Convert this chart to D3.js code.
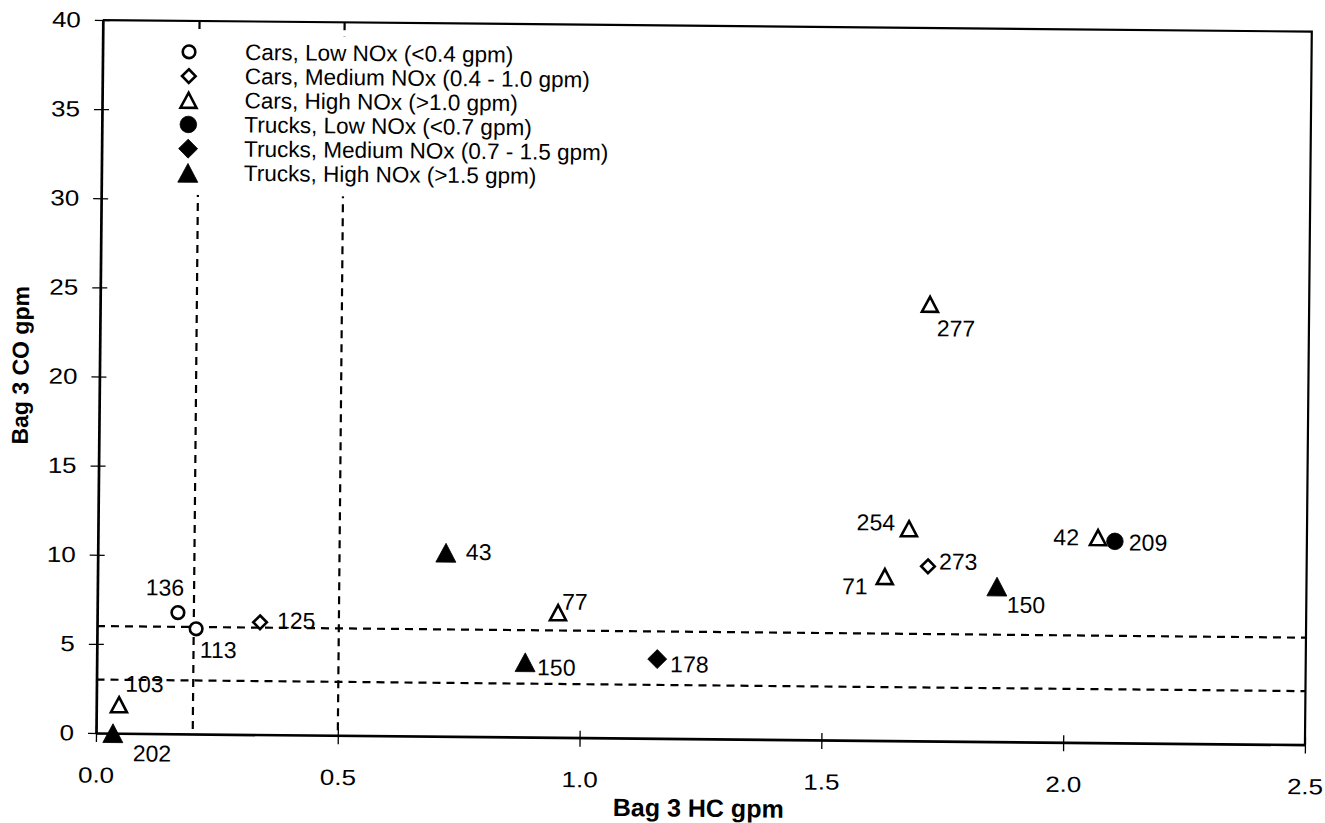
<!DOCTYPE html>
<html>
<head>
<meta charset="utf-8">
<script src="https://cdn.jsdelivr.net/npm/d3@7"></script>
<style>
  html, body { margin: 0; padding: 0; background: #fff; }
  svg { display: block; }
  text { font-family: "Liberation Sans", Arial, Helvetica, sans-serif; fill: #000; }
</style>
</head>
<body>
<svg id="chart" width="1325" height="823"></svg>
<script>
// ---- Data: Bag 3 HC vs CO emissions per vehicle ----
const vehicleIds = ["202", "103", "136", "113", "125", "43", "77", "150", "178", "277", "254", "273", "71", "150", "42", "209"];
const hcValues   = [0.035, 0.047, 0.167, 0.205, 0.337, 0.720, 0.953, 0.886, 1.159, 1.716, 1.677, 1.717, 1.628, 1.860, 2.068, 2.103];
const coValues   = [0.0, 1.6, 6.8, 5.9, 6.3, 10.3, 7.0, 4.2, 4.45, 24.5, 11.9, 9.8, 9.2, 8.7, 11.5, 11.3];
const groupIndex = [5, 2, 0, 0, 1, 5, 2, 5, 4, 2, 2, 1, 2, 5, 2, 3];

const groupLabels = [
  "Cars, Low NOx (<0.4 gpm)",
  "Cars, Medium NOx (0.4 - 1.0 gpm)",
  "Cars, High NOx (>1.0 gpm)",
  "Trucks, Low NOx (<0.7 gpm)",
  "Trucks, Medium NOx (0.7 - 1.5 gpm)",
  "Trucks, High NOx (>1.5 gpm)"
];

// Reference cut-off lines
const hcCutoffs = [0.2, 0.5];
const coCutoffs = [3, 6];

const xTickValues = [0, 0.5, 1.0, 1.5, 2.0, 2.5];
const yTickValues = [0, 5, 10, 15, 20, 25, 30, 35, 40];
const xTitle = "Bag 3 HC gpm";
const yTitle = "Bag 3 CO gpm";

// ---- Layout ----
const left = 96, bottom = 733, plotW = 1209, plotH = 713;
const x = d3.scaleLinear().domain([0, 2.5]).range([left, left + plotW]);
const y = d3.scaleLinear().domain([0, 40]).range([bottom, bottom - plotH]);

// Custom marker shapes (size = half extent)
const shapeCircle = { draw(ctx, r) { ctx.moveTo(r, 0); ctx.arc(0, 0, r, 0, 2 * Math.PI); } };
const shapeDiamond = { draw(ctx, s) { ctx.moveTo(0, -s); ctx.lineTo(s, 0); ctx.lineTo(0, s); ctx.lineTo(-s, 0); ctx.closePath(); } };
const shapeTriangle = { draw(ctx, s) { const hh = s * 0.94; ctx.moveTo(0, -hh); ctx.lineTo(s, hh); ctx.lineTo(-s, hh); ctx.closePath(); } };

const groupStyle = [
  { type: shapeCircle,   size: 6.3, filled: false },
  { type: shapeDiamond,  size: 6.8, filled: false },
  { type: shapeTriangle, size: 8.0, filled: false },
  { type: shapeCircle,   size: 8.3, filled: true },
  { type: shapeDiamond,  size: 9.5, filled: true },
  { type: shapeTriangle, size: 10.0, filled: true }
];

function styleMarker(sel, gi) {
  const st = groupStyle[gi];
  sel.attr("d", d3.symbol().type(st.type).size(st.size)())
     .attr("fill", st.filled ? "#000" : "#fff")
     .attr("stroke", "#000")
     .attr("stroke-width", st.filled ? 0.8 : 2.6)
     .attr("stroke-linejoin", "miter");
}

// Label placement next to each marker: [dx, dy, anchor]
const labelPlacement = [
  [20, 20, "start"], [6, -21, "start"], [6, -25, "end"], [4, 21, "start"],
  [17, -2, "start"], [20, -1, "start"], [4, -11, "start"], [12, 5, "start"],
  [13, 5, "start"], [7, 24, "start"], [-14, -6, "end"], [11, -5, "start"],
  [-17, 10, "end"], [10, 18, "start"], [-19, 0, "end"], [14, 1, "start"]
];

const svg = d3.select("#chart");
svg.append("rect").attr("width", 1325).attr("height", 823).attr("fill", "#fff");

// Whole figure sits slightly tilted, as on the printed page
const root = svg.append("g").attr("transform", `rotate(0.55, ${left}, ${bottom})`);

// Dashed cut-off lines
const cuts = root.append("g").attr("stroke", "#000").attr("stroke-width", 2.2).attr("stroke-dasharray", "8,6");
cuts.selectAll("line.v").data(hcCutoffs).join("line")
  .attr("x1", d => x(d)).attr("x2", d => x(d))
  .attr("y1", y(40)).attr("y2", y(0));
cuts.selectAll("line.h").data(coCutoffs).join("line")
  .attr("x1", x(0)).attr("x2", x(2.5))
  .attr("y1", d => y(d)).attr("y2", d => y(d));

// Legend
const legend = root.append("g");
legend.append("rect").attr("x", 150).attr("y", 34).attr("width", 410).attr("height", 160).attr("fill", "#fff");
const rows = legend.selectAll("g.row").data(groupLabels).join("g")
  .attr("transform", (d, i) => `translate(182.5, ${51 + i * 24.2})`);
rows.append("path").each(function (d, i) { styleMarker(d3.select(this), i); });
rows.append("text").attr("x", 56).attr("dominant-baseline", "central")
  .attr("font-size", 22.5).text(d => d);

// Points
const pts = root.append("g").selectAll("g").data(vehicleIds).join("g")
  .attr("transform", (d, i) => `translate(${x(hcValues[i])}, ${y(coValues[i])})`);
pts.append("path").each(function (d, i) { styleMarker(d3.select(this), groupIndex[i]); });
pts.append("text")
  .attr("x", (d, i) => labelPlacement[i][0])
  .attr("y", (d, i) => labelPlacement[i][1])
  .attr("text-anchor", (d, i) => labelPlacement[i][2])
  .attr("dominant-baseline", "central")
  .attr("font-size", 23).text(d => d);

// Axes
const stretch = 1.18;
const yAxis = root.append("g").attr("transform", `translate(${x(0)},0)`)
  .call(d3.axisLeft(y).tickValues(yTickValues).tickFormat(d3.format("d")).tickSizeInner(8).tickSizeOuter(0));
yAxis.select(".domain").attr("stroke-width", 2.7);
yAxis.selectAll(".tick line").attr("x1", 7).attr("stroke-width", 1.3);
yAxis.selectAll(".tick text")
  .attr("font-family", "Liberation Sans, Arial, sans-serif").attr("font-size", 22)
  .attr("x", -22 / stretch).attr("transform", `scale(${stretch},1)`);

const xAxis = root.append("g").attr("transform", `translate(0,${y(0)})`)
  .call(d3.axisBottom(x).tickValues(xTickValues).tickFormat(d3.format(".1f")).tickSizeInner(9).tickSizeOuter(0));
xAxis.select(".domain").attr("stroke-width", 2.7);
xAxis.selectAll(".tick line").attr("y1", -7).attr("stroke-width", 1.3);
xAxis.selectAll(".tick text")
  .attr("font-family", "Liberation Sans, Arial, sans-serif").attr("font-size", 22)
  .attr("y", 34).attr("transform", `scale(${stretch},1)`);

// Frame: top and right borders
root.append("path")
  .attr("d", `M${x(0)},${y(40)}H${x(2.5)}V${y(0)}`)
  .attr("fill", "none").attr("stroke", "#000").attr("stroke-width", 2.2);

// Axis titles
root.append("text").attr("x", 699).attr("y", 802)
  .attr("text-anchor", "middle").attr("dominant-baseline", "central")
  .attr("font-size", 25).attr("font-weight", "bold").text(xTitle);
root.append("text").attr("transform", "translate(17,366) rotate(-90)")
  .attr("text-anchor", "middle").attr("dominant-baseline", "central")
  .attr("font-size", 23).attr("font-weight", "bold").text(yTitle);
</script>
</body>
</html>
